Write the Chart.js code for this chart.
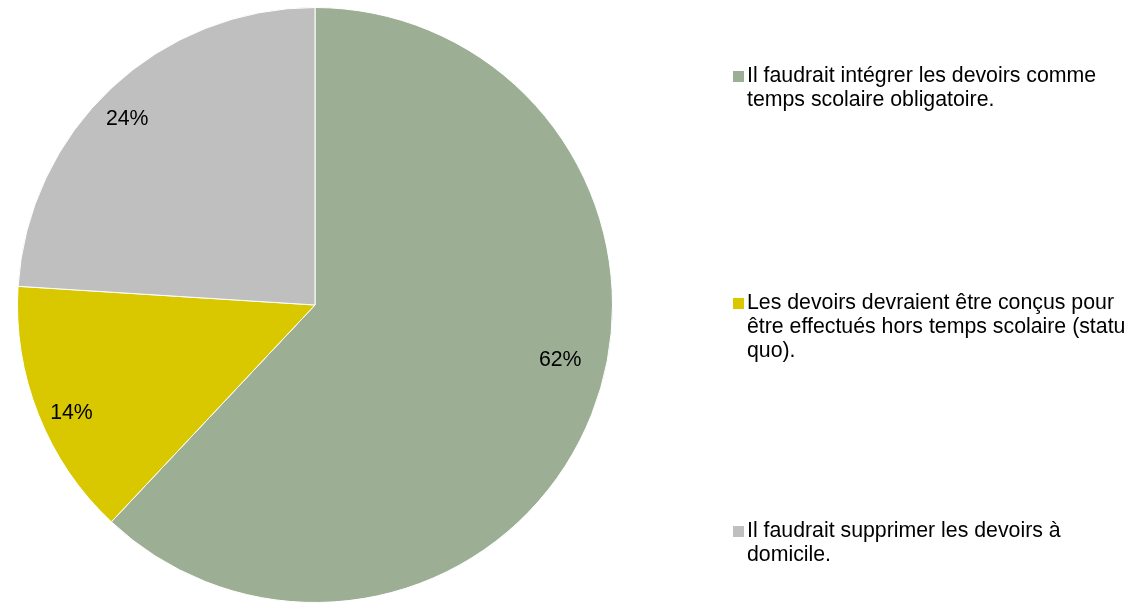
<!DOCTYPE html>
<html>
<head>
<meta charset="utf-8">
<script src="https://cdn.jsdelivr.net/npm/chart.js@4"></script>
<style>
    body { margin: 0; background: #fff; font-family: "Liberation Sans", Arial, sans-serif; }
    #wrap { position: relative; width: 1135px; height: 603px; }
    #legend { position: absolute; left: 733px; top: 0; width: 400px; }
    .item { position: absolute; left: 0; display: flex; font-size: 21.3px; line-height: 24px; color: #000; white-space: nowrap; }
    .box { width: 11px; height: 11px; margin: 8px 3px 0 0; flex: none; }
</style>
</head>
<body>
<div id="wrap">
    <canvas id="pieChart" width="1135" height="603"></canvas>
    <div id="legend"></div>
</div>
<script>
// data
const labels = [
    ['Il faudrait intégrer les devoirs comme', 'temps scolaire obligatoire.'],
    ['Les devoirs devraient être conçus pour', 'être effectués hors temps scolaire (statu', 'quo).'],
    ['Il faudrait supprimer les devoirs à', 'domicile.']
];
const values = [62, 14, 24];
const colors = ['#9caf94', '#d9c800', '#bfbfbf'];

// legend item tops (px)
const legendTops = [63, 290, 518];
// percentage label placement: fraction of radius, angle shift in degrees
const labelRadius = [0.845, 0.896, 0.888];
const labelShift = [-8.9, -2.4, -2.1];

const legend = document.getElementById('legend');
labels.forEach(function (lines, i) {
    const item = document.createElement('div');
    item.className = 'item';
    item.style.top = legendTops[i] + 'px';
    item.innerHTML = '<span class="box" style="background:' + colors[i] + '"></span><span>' + lines.join('<br>') + '</span>';
    legend.appendChild(item);
});

// percentage labels inside the slices
const percentLabels = {
    id: 'percentLabels',
    afterDatasetsDraw: function (chart) {
        const ctx = chart.ctx;
        const meta = chart.getDatasetMeta(0);
        ctx.save();
        ctx.font = '21.3px "Liberation Sans", Arial, sans-serif';
        ctx.fillStyle = '#000';
        ctx.textAlign = 'center';
        ctx.textBaseline = 'middle';
        meta.data.forEach(function (arc, i) {
            const mid = (arc.startAngle + arc.endAngle) / 2 + labelShift[i] * Math.PI / 180;
            const r = arc.outerRadius * labelRadius[i];
            ctx.fillText(values[i] + '%', arc.x + Math.cos(mid) * r, arc.y + Math.sin(mid) * r);
        });
        ctx.restore();
    }
};

new Chart(document.getElementById('pieChart'), {
    type: 'pie',
    data: {
        labels: labels,
        datasets: [{
            data: values,
            backgroundColor: colors,
            borderColor: '#ffffff',
            borderWidth: 1
        }]
    },
    options: {
        responsive: false,
        animation: false,
        layout: { padding: { left: 17, right: 522, top: 7, bottom: 0 } },
        plugins: {
            legend: { display: false },
            tooltip: { enabled: false }
        }
    },
    plugins: [percentLabels]
});
</script>
</body>
</html>
